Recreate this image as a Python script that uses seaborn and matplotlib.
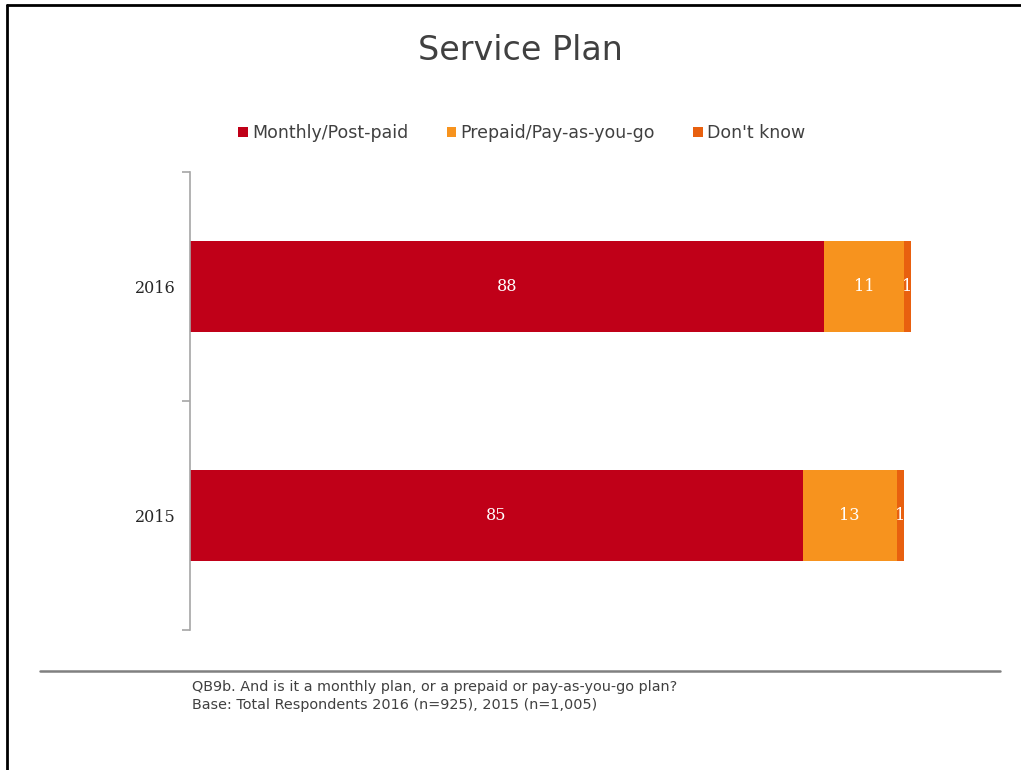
import matplotlib
matplotlib.use("Agg")
import matplotlib.pyplot as plt
from matplotlib.lines import Line2D
from matplotlib.patches import Patch
import numpy as np
import pandas as pd
import seaborn as sns

# Survey data: share of respondents by service plan type
years = ["2016", "2015"]
series_names = ["Monthly/Post-paid", "Prepaid/Pay-as-you-go", "Don't know"]
monthly = [88, 85]
prepaid = [11, 13]
dont_know = [1, 1]
colors = ["#C00018", "#F7931E", "#E8600F"]

sns.set_theme(style="white")
plt.rcParams["font.family"] = ["DejaVu Sans"]

fig = plt.figure(figsize=(10.21, 7.70), dpi=100)
W, H = 1021, 770
ax = fig.add_axes([190 / W, (H - 630) / H, (911 - 190) / W, (630 - 172) / H])

values = [monthly, prepaid, dont_know]
cum = np.cumsum(np.array(values), axis=0)

# Stacked bars: draw cumulative totals back to front
for i in range(len(series_names) - 1, -1, -1):
    df = pd.DataFrame({"year": years, "value": cum[i]})
    sns.barplot(data=df, x="value", y="year", order=years, color=colors[i],
                width=0.4, saturation=1, ax=ax, orient="h", edgecolor="none")

# Segment value labels
for i, vals in enumerate(values):
    for j, v in enumerate(vals):
        start = cum[i][j] - v
        ax.text(start + v / 2, j, f"{v}", ha="center", va="center",
                color="white", fontsize=11.5, family="DejaVu Serif")

ax.set_xlim(0, 100)
ax.set_ylim(1.5, -0.5)
ax.set_xlabel("")
ax.set_ylabel("")
ax.set_xticks([])
for s in ["top", "right", "bottom"]:
    ax.spines[s].set_visible(False)
ax.spines["left"].set_color("#A6A6A6")
ax.spines["left"].set_linewidth(1.2)
ax.set_yticks([0, 1])
ax.set_yticklabels(years, family="DejaVu Serif", fontsize=11.5, color="#262626")
ax.set_yticks([-0.5, 0.5, 1.5], minor=True)
ax.tick_params(axis="y", which="major", length=0, pad=10)
ax.tick_params(axis="y", which="minor", length=6, color="#A6A6A6", width=1.2, left=True)

# Title
fig.text(520 / W, 1 - 50 / H, "Service Plan", ha="center", va="center",
         fontsize=24, color="#404040")

# Legend
handles = [Patch(facecolor=c, edgecolor="none") for c in colors]
fig.legend(handles, series_names, loc="center", bbox_to_anchor=(522 / W, 1 - 133 / H),
           ncol=3, frameon=False, fontsize=12.5, handlelength=0.55, handleheight=0.55,
           handletextpad=0.25, columnspacing=2.2, labelcolor="#404040")

# Separator line and footnote
fig.add_artist(Line2D([40 / W, 1000 / W], [1 - 671 / H] * 2, color="#808080",
                      linewidth=1.8, transform=fig.transFigure))
fig.text(192 / W, 1 - 687 / H,
         "QB9b. And is it a monthly plan, or a prepaid or pay-as-you-go plan?",
         ha="left", va="center", fontsize=10.4, color="#404040")
fig.text(192 / W, 1 - 705 / H,
         "Base: Total Respondents 2016 (n=925), 2015 (n=1,005)",
         ha="left", va="center", fontsize=10.4, color="#404040")

# Page frame on the top and left edges
fig.add_artist(Line2D([7 / W, 7 / W], [0, 1 - 5 / H], color="black", linewidth=2,
                      transform=fig.transFigure))
fig.add_artist(Line2D([7 / W, 1], [1 - 5 / H] * 2, color="black", linewidth=2,
                      transform=fig.transFigure))

fig.savefig("out.png", dpi=100)
